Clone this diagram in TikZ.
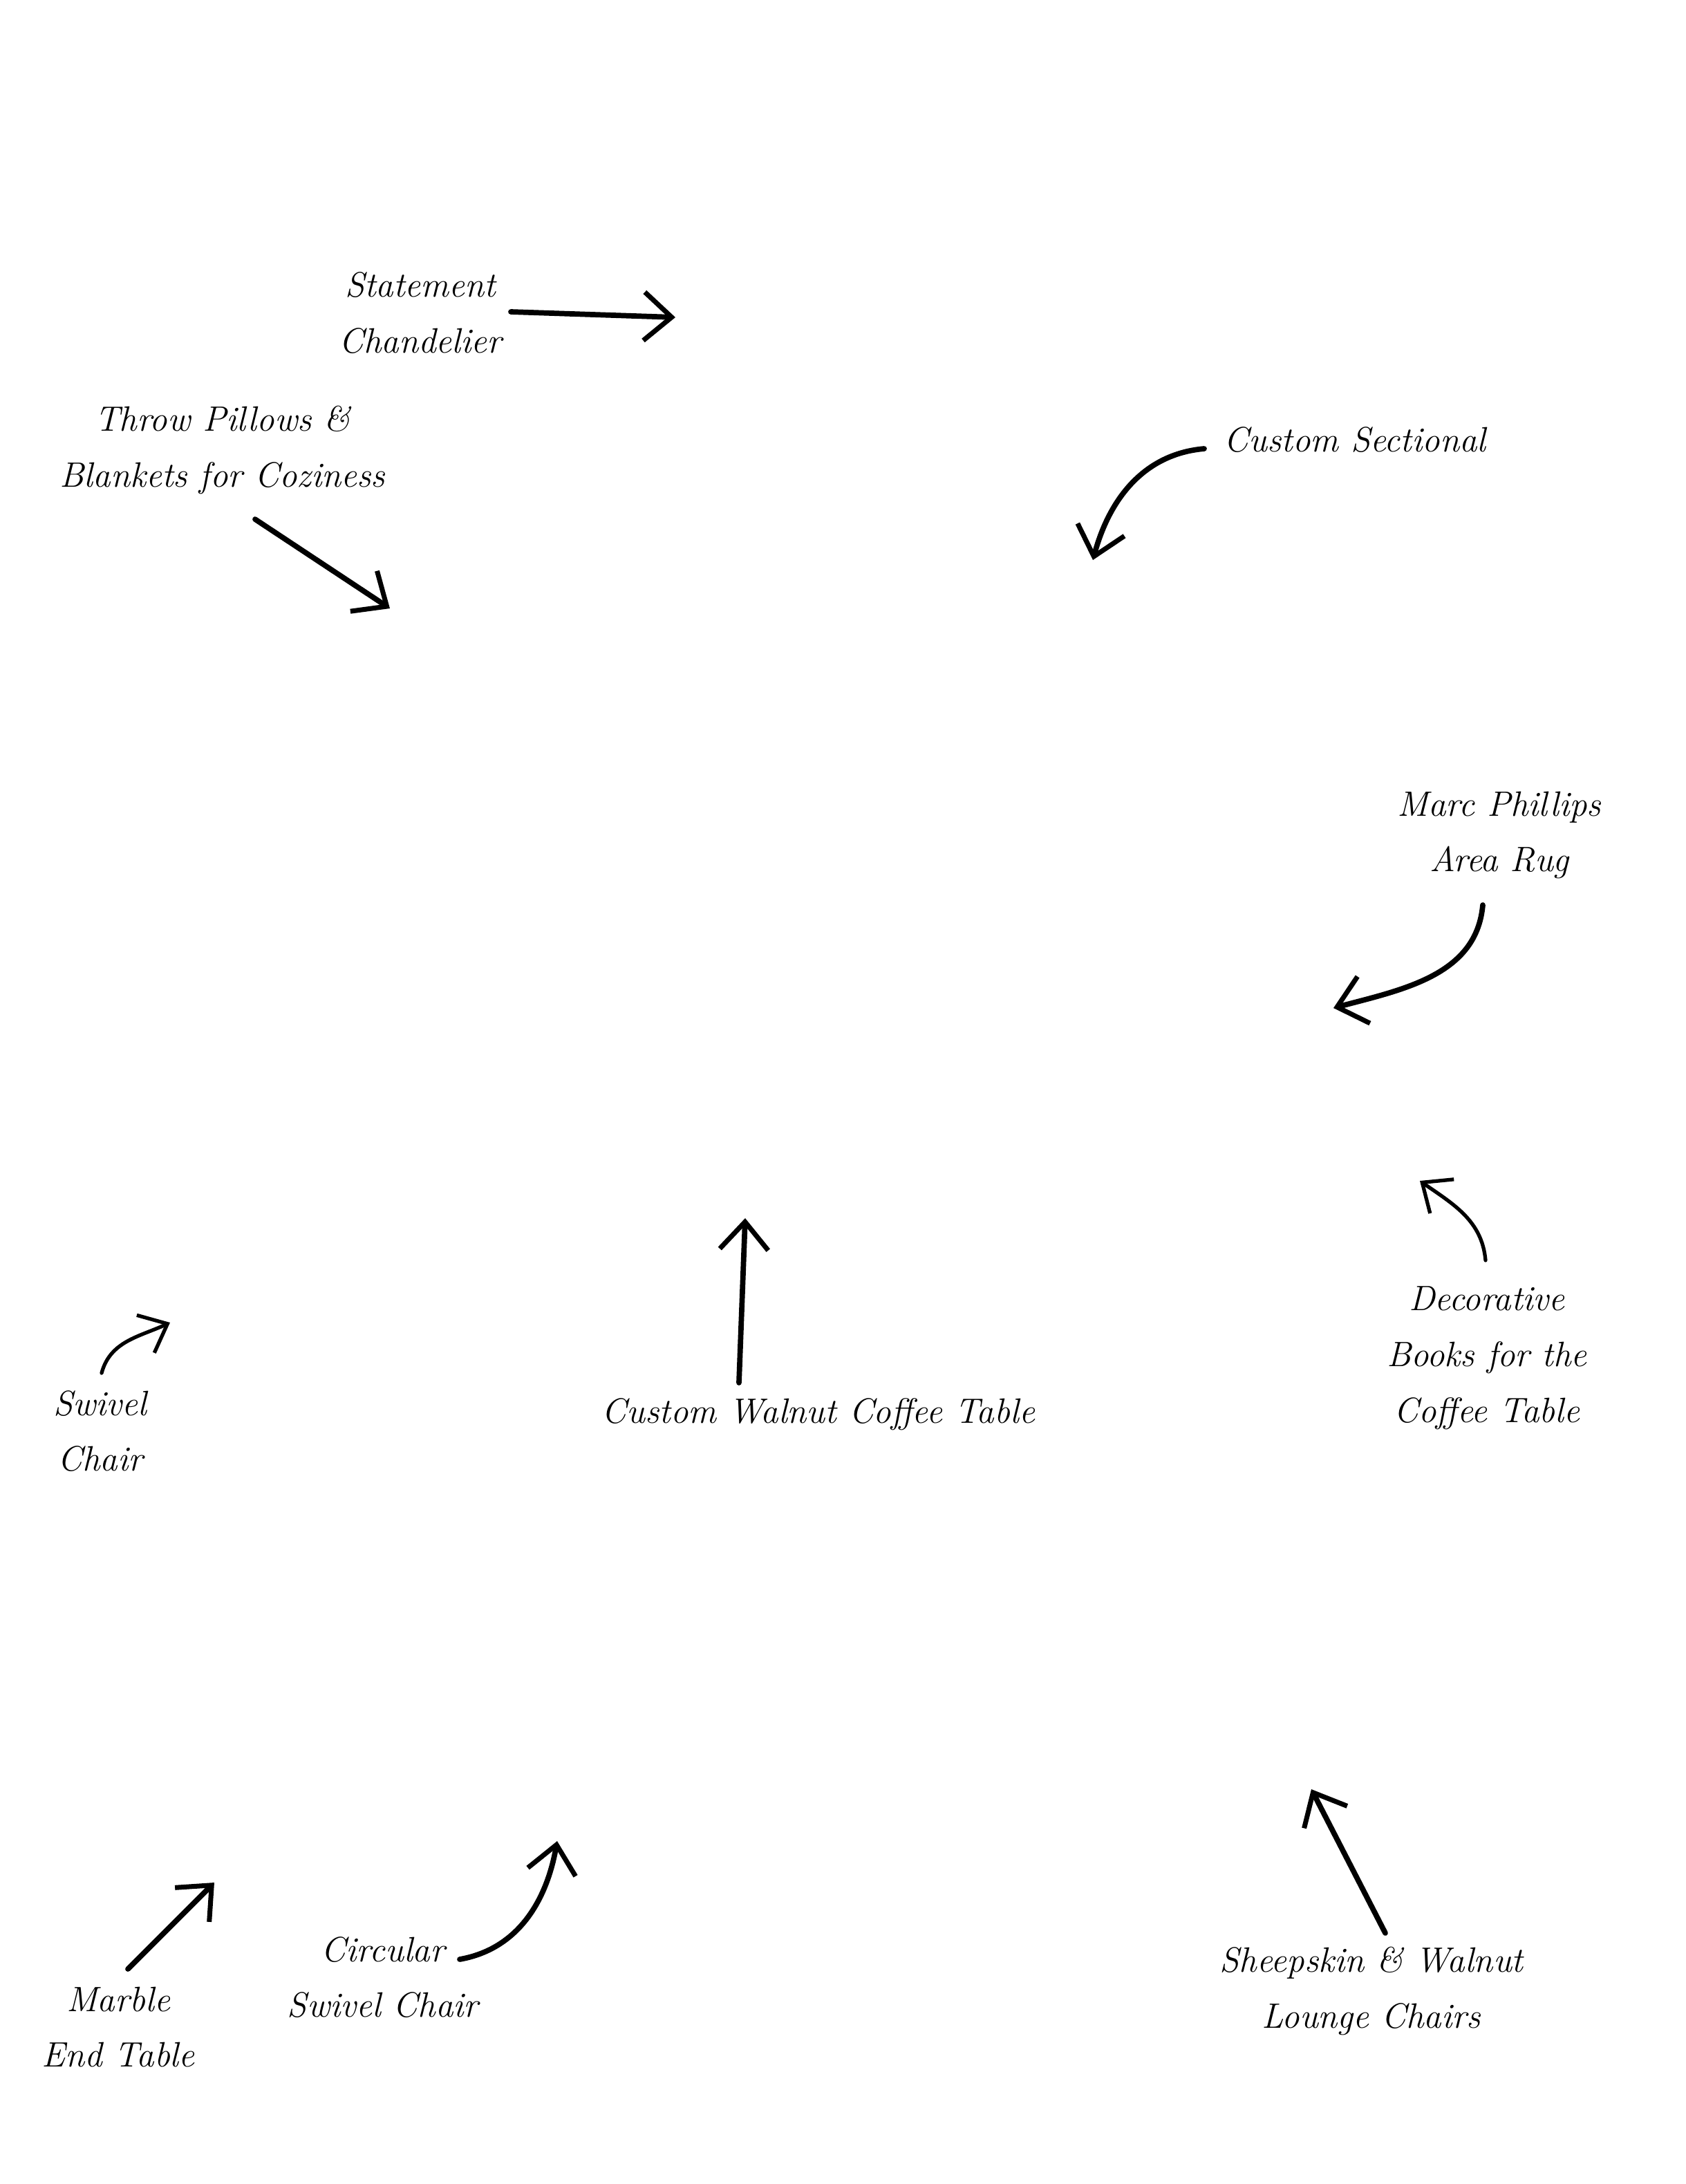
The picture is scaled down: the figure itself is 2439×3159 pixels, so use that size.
\documentclass[tikz,border=0pt]{standalone}
\usetikzlibrary{arrows.meta}
\tikzset{
  lbl/.style={align=center, font=\fontsize{14.5}{23}\selectfont\itshape, inner sep=2pt},
  arr/.style={line width=2.2pt, line cap=round, -{Straight Barb[length=4mm,width=7mm,line width=2pt]}},
  thinarr/.style={line width=1.5pt, line cap=round, -{Straight Barb[length=3.5mm,width=6mm,line width=1.5pt]}}
}
\begin{document}
\begin{tikzpicture}[x=0.01cm,y=-0.01cm]
\useasboundingbox (0,0) rectangle (2439,3159);
% labels
\node[lbl] (stmt) at (608,453) {Statement\\Chandelier};
\node[lbl] (throw) at (322,651) {Throw Pillows \&\\Blankets for Coziness};
\node[lbl] (sect) at (1960,636) {Custom Sectional};
\node[lbl] (rug) at (2169,1208) {Marc Phillips\\Area Rug};
\node[lbl] (books) at (2151,1964) {Decorative\\Books for the\\Coffee Table};
\node[lbl] (ctable) at (1184,2046) {Custom Walnut Coffee Table};
\node[lbl] (swivel) at (145,2070) {Swivel\\Chair};
\node[lbl] (marble) at (171,2932) {Marble\\End Table};
\node[lbl] (circ) at (554,2860) {Circular\\Swivel Chair};
\node[lbl] (sheep) at (1984,2880) {Sheepskin \& Walnut\\Lounge Chairs};
% start points
\coordinate (s1) at (739,451);
\coordinate (s2) at (369,751);
\coordinate (s3) at (1742,649);
\coordinate (s4) at (2145,1309);
\coordinate (s5) at (2149,1823);
\coordinate (s6) at (1069,2000);
\coordinate (s7) at (147,1986);
\coordinate (s8) at (185,2848);
\coordinate (s9) at (665,2834);
\coordinate (s10) at (2004,2796);
% end points
\coordinate (e1) at (977,459);
\coordinate (e2) at (564,880);
\coordinate (e3) at (1581,810);
\coordinate (e4) at (1929,1458);
\coordinate (e5) at (2054,1708);
\coordinate (e6) at (1078,1762);
\coordinate (e7) at (246,1913);
\coordinate (e8) at (310,2723);
\coordinate (e9) at (806,2663);
\coordinate (e10) at (1897,2588);
% arrows
\draw[arr] (s1) -- (e1);
\draw[arr] (s2) -- (e2);
\draw[arr] (s3) to[out=185,in=75] (e3);
\draw[arr] (s4) to[out=-95,in=15] (e4);
\draw[thinarr] (s5) to[out=95,in=-35] (e5);
\draw[arr] (s6) -- (e6);
\draw[thinarr] (s7) to[out=75,in=205] (e7);
\draw[arr] (s8) -- (e8);
\draw[arr] (s9) to[out=10,in=-100] (e9);
\draw[arr] (s10) -- (e10);
\end{tikzpicture}
\end{document}
